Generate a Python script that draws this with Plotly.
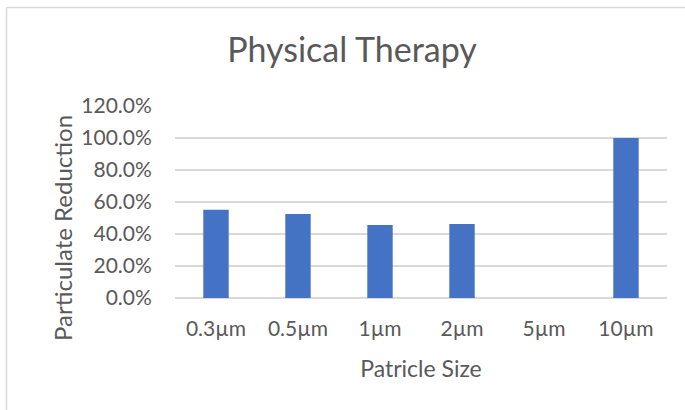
import plotly.graph_objects as go

categories = ["0.3µm", "0.5µm", "1µm", "2µm", "5µm", "10µm"]
reduction = [0.552, 0.525, 0.457, 0.462, 0.0, 1.0]
y_ticks = [0.0, 0.2, 0.4, 0.6, 0.8, 1.0, 1.2]

W, H = 685, 410
L, R, T, B = 175, 18, 106, 112
pw, ph = W - L - R, H - T - B

FONT = "Lato"
TXT = "#595959"
GRID = "#d9d9d9"

fig = go.Figure()
fig.add_trace(go.Bar(x=categories, y=reduction, marker=dict(color="#4472C4", line=dict(width=0)),
                     width=0.31))

def px_x(p):
    return (p - L) / pw

def px_y(p):
    return (H - B - p) / ph

fig.update_layout(
    width=W, height=H,
    margin=dict(l=L, r=R, t=T, b=B),
    paper_bgcolor="white", plot_bgcolor="white",
    showlegend=False,
    font=dict(family=FONT, color=TXT),
    title=dict(text="Physical Therapy", xref="container", yref="container",
               x=352 / W, xanchor="center", y=1 - 50 / H, yanchor="middle",
               font=dict(family=FONT, size=34, color=TXT)),
    xaxis=dict(type="category", range=[-0.5, 5.5], showgrid=False, showline=False,
               zeroline=False, ticks="outside", ticklen=12, tickcolor="rgba(0,0,0,0)",
               tickfont=dict(size=21, color=TXT),
               title=dict(text="Patricle Size", font=dict(size=23, color=TXT), standoff=21)),
    yaxis=dict(range=[0, 1.2], tickvals=y_ticks, tickformat=".1%", showgrid=True,
               gridcolor=GRID, gridwidth=1.5, zeroline=True, zerolinecolor=GRID,
               zerolinewidth=1.5, showline=False, ticks="outside", ticklen=18,
               tickcolor="rgba(0,0,0,0)", tickfont=dict(size=21, color=TXT)),
    shapes=[
        dict(type="line", xref="paper", yref="paper",
             x0=px_x(6.5), x1=px_x(W + 5), y0=px_y(7.5), y1=px_y(7.5),
             line=dict(color=GRID, width=1.5), layer="above"),
        dict(type="line", xref="paper", yref="paper",
             x0=px_x(6.5), x1=px_x(6.5), y0=px_y(7.5), y1=px_y(H + 5),
             line=dict(color=GRID, width=1.5), layer="above"),
    ],
    annotations=[dict(text="Particulate Reduction", xref="paper", yref="paper",
                      x=px_x(62), y=px_y(228), xanchor="center", yanchor="middle",
                      textangle=-90, showarrow=False,
                      font=dict(family=FONT, size=24, color=TXT))],
)

fig.write_html("out.html", config={"displayModeBar": False},
               post_script="document.body.style.margin='0';")
